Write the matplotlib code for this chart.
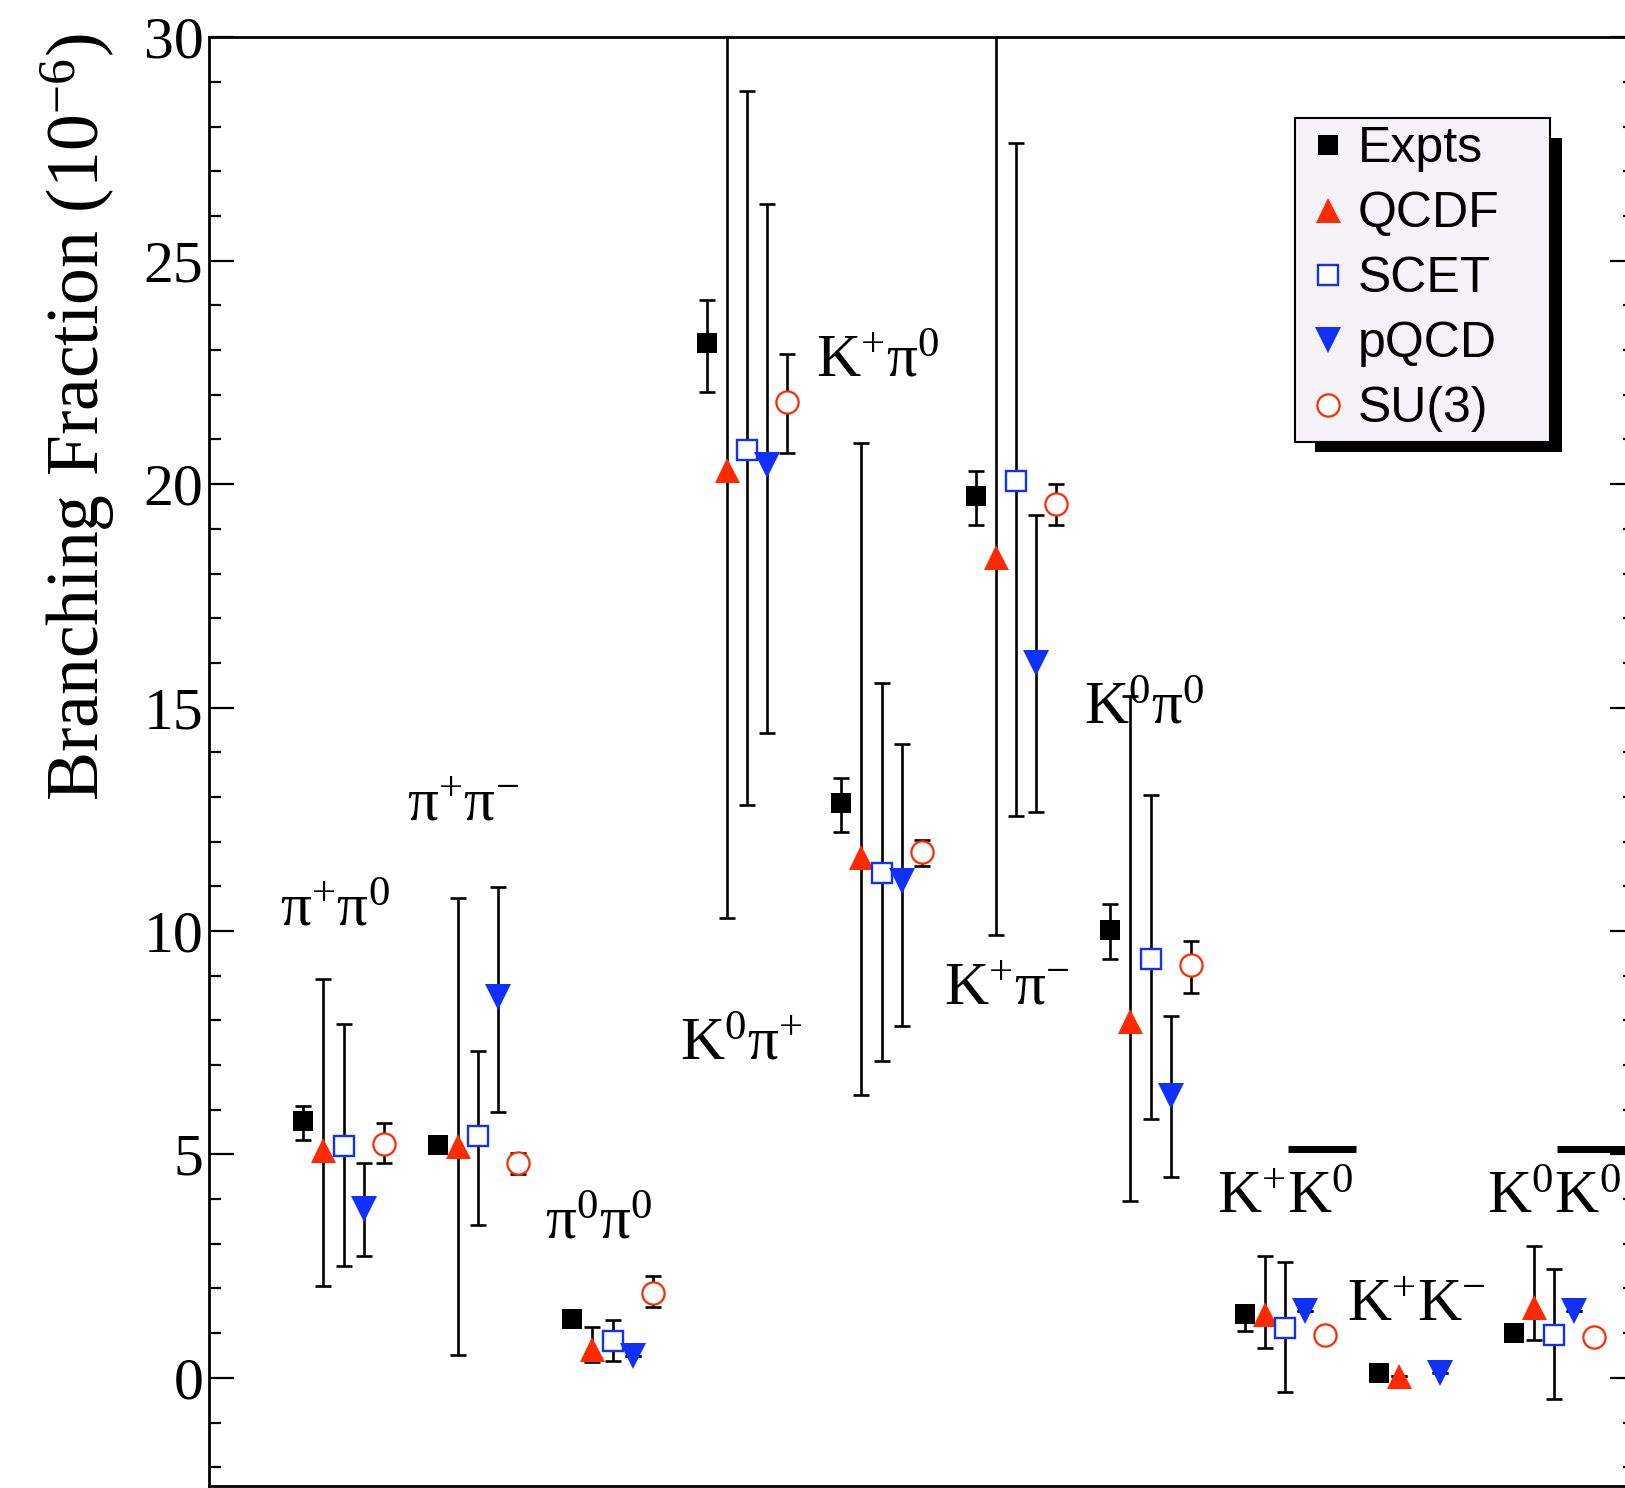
import numpy as np
import matplotlib
matplotlib.use('Agg')
import matplotlib.pyplot as plt
from matplotlib.lines import Line2D
from matplotlib.patches import Rectangle
from matplotlib.ticker import MultipleLocator

plt.rcParams['mathtext.fontset'] = 'custom'
plt.rcParams['mathtext.rm'] = 'Liberation Serif'
plt.rcParams['mathtext.it'] = 'Liberation Serif:italic'
plt.rcParams['mathtext.bf'] = 'Liberation Serif:bold'

# ---------------- data ----------------
channels = ['π^{+}π^{0}', 'π^{+}π^{-}', 'π^{0}π^{0}', 'K^{0}π^{+}', 'K^{+}π^{0}',
            'K^{+}π^{-}', 'K^{0}π^{0}', 'K^{+}K^{0}', 'K^{+}K^{-}', 'K^{0}K^{0}']
channel_bar = [False, False, False, False, False, False, False, True, False, True]
label_x = [0.94, 1.89, 2.90, 3.96, 4.97, 5.93, 6.95, 8.00, 8.98, 10.00]
label_y = [10.13, 12.48, 3.11, 7.12, 22.40, 8.35, 14.65, 3.69, 1.27, 3.70]
bar_y = 5.13

series = ['Expts', 'QCDF', 'SCET', 'pQCD', 'SU(3)']

expts_val = [5.74, 5.22, 1.32, 23.15, 12.87, 19.74, 10.03, 1.42, 0.10, 1.01]
expts_lo = [0.41, 0.15, 0.15, 1.08, 0.66, 0.66, 0.65, 0.37, 0.0, 0.0]
expts_hi = [0.35, 0.15, 0.15, 0.98, 0.55, 0.56, 0.58, 0.20, 0.0, 0.0]

qcdf_val = [5.11, 5.18, 0.65, 20.31, 11.66, 18.37, 7.99, 1.44, 0.05, 1.59]
qcdf_lo = [3.06, 4.66, 0.30, 10.02, 5.32, 8.45, 4.04, 0.77, 0.0, 0.75]
qcdf_hi = [3.82, 5.56, 0.48, 11.69, 9.26, 13.63, 7.28, 1.28, 0.0, 1.37]

scet_val = [5.18, 5.41, 0.82, 20.77, 11.30, 20.08, 9.38, 1.12, np.nan, 0.97]
scet_lo = [2.67, 1.99, 0.45, 7.96, 4.21, 7.50, 3.58, 1.43, np.nan, 1.44]
scet_hi = [2.75, 1.90, 0.47, 8.03, 4.26, 7.55, 3.66, 1.47, np.nan, 1.46]

pqcd_val = [3.77, 8.53, 0.50, 20.42, 11.11, 16.00, 6.30, 1.49, 0.10, 1.49]
pqcd_lo = [1.05, 2.58, 0.0, 5.99, 3.24, 3.34, 1.80, 0.0, 0.0, 0.0]
pqcd_hi = [1.03, 2.45, 0.0, 5.85, 3.08, 3.30, 1.79, 0.0, 0.0, 0.0]

su3_val = [5.24, 4.80, 1.89, 21.84, 11.76, 19.55, 9.23, 0.97, np.nan, 0.92]
su3_lo = [0.44, 0.23, 0.30, 1.14, 0.31, 0.47, 0.61, 0.0, np.nan, 0.0]
su3_hi = [0.47, 0.23, 0.40, 1.07, 0.28, 0.45, 0.54, 0.0, np.nan, 0.0]

# ---------------- figure ----------------
W, H = 1625, 1488
fig = plt.figure(figsize=(W / 100, H / 100), dpi=100)
ax_l, ax_r, ax_t, ax_b = 209, 1634.7, 37.3, 1486
ax = fig.add_axes([ax_l / W, 1 - ax_b / H, (ax_r - ax_l) / W, (ax_b - ax_t) / H])
ax.set_xlim(0, 10.6)
ax.set_ylim(-2.42, 30)

groups = np.arange(1, 11)
offsets = [-0.30, -0.15, 0.0, 0.15, 0.30]
RED = '#ff2a00'
BLUE = '#1030ff'
styles = [
    dict(marker='s', ms=14.5, mfc='black', mec='black', mew=0),
    dict(marker='^', ms=18, mfc=RED, mec=RED, mew=0),
    dict(marker='s', ms=15, mfc='white', mec=BLUE, mew=1.7),
    dict(marker='v', ms=18.5, mfc=BLUE, mec=BLUE, mew=0),
    dict(marker='o', ms=16, mfc='white', mec=RED, mew=1.6),
]
data = [(expts_val, expts_lo, expts_hi), (qcdf_val, qcdf_lo, qcdf_hi),
        (scet_val, scet_lo, scet_hi), (pqcd_val, pqcd_lo, pqcd_hi),
        (su3_val, su3_lo, su3_hi)]

for k, ((v, lo, hi), st) in enumerate(zip(data, styles)):
    ax.errorbar(groups + offsets[k], v, yerr=[lo, hi], fmt='none', ecolor='black',
                elinewidth=1.9, capsize=6, capthick=1.9, zorder=2)
for k, ((v, lo, hi), st) in enumerate(zip(data, styles)):
    ax.plot(groups + offsets[k], v, linestyle='none', zorder=3, **st)

# channel labels
for name, lx, ly, ob in zip(channels, label_x, label_y, channel_bar):
    ax.text(lx, ly, r'$\mathrm{' + name + '}$', fontsize=44, ha='center',
            va='baseline', color='black', zorder=4)
    if ob:
        ax.plot([lx + 0.02, lx + 0.53], [bar_y, bar_y], color='black', lw=5,
                solid_capstyle='butt', zorder=4)

# axes styling
ax.set_xticks([])
ax.yaxis.set_major_locator(MultipleLocator(5))
ax.yaxis.set_minor_locator(MultipleLocator(1))
ax.tick_params(axis='y', which='both', direction='in', left=True, right=True,
               width=1.6, labelsize=43, pad=4)
ax.tick_params(axis='y', which='major', length=18)
ax.tick_params(axis='y', which='minor', length=8.6)
for lab in ax.get_yticklabels():
    lab.set_fontfamily('Liberation Serif')
for sp in ax.spines.values():
    sp.set_linewidth(2)

ax.set_ylabel(r'Branching Fraction (10$^{\mathrm{-6}}$)', fontsize=53,
              fontfamily='Liberation Serif')
ax.yaxis.set_label_coords(-0.0645, 0.738)

# legend frame and shadow (pixel positions, figure space)
def fr(x0, y0, x1, y1):
    return (x0 / W, 1 - y1 / H), (x1 - x0) / W, (y1 - y0) / H

xy, w, h = fr(1315, 138, 1562, 452)
ax.add_patch(Rectangle(xy, w, h, transform=fig.transFigure, facecolor='black',
                       edgecolor='none', clip_on=False, zorder=5))
xy, w, h = fr(1295, 118, 1550, 442)
ax.add_patch(Rectangle(xy, w, h, transform=fig.transFigure, facecolor='#f5f3f7',
                       edgecolor='black', lw=1.5, clip_on=False, zorder=5.1))

handles = [Line2D([], [], linestyle='none', **st) for st in styles]
leg = ax.legend(handles, series, loc='upper left',
                bbox_to_anchor=(1298 / W, 1 - 126 / H), bbox_transform=fig.transFigure,
                frameon=False, borderpad=0, handlelength=1.2, handletextpad=0.0,
                labelspacing=0.38, borderaxespad=0,
                prop={'family': 'Liberation Sans', 'size': 36})
leg.set_zorder(6)

fig.savefig('out.png', dpi=100)
